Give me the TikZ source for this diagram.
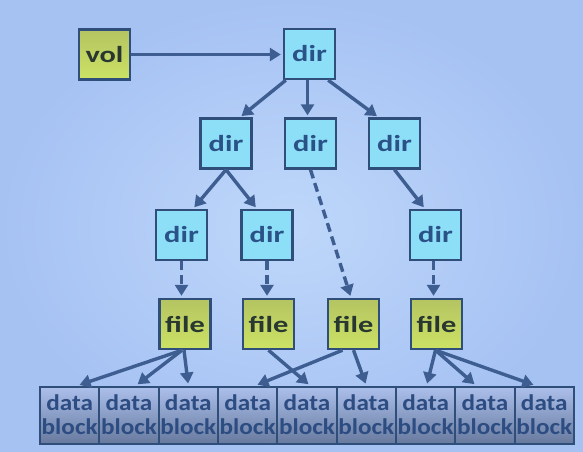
\documentclass[tikz,border=0pt]{standalone}
\usepackage{fontspec}
\setmainfont{Carlito}
\newfontfamily\lblfont[FakeStretch=1.32]{Carlito}
\newfontfamily\blkfont[FakeStretch=1.12]{Carlito}
\usetikzlibrary{arrows.meta}
\definecolor{bgout}{RGB}{166,194,243}
\definecolor{bgin}{RGB}{190,215,250}
\definecolor{dirfill}{RGB}{141,223,248}
\definecolor{boxline}{RGB}{48,78,122}
\definecolor{arrowc}{RGB}{62,94,145}
\definecolor{dirtext}{RGB}{42,82,135}
\definecolor{filetop}{RGB}{180,196,98}
\definecolor{filebot}{RGB}{204,226,100}
\definecolor{filetext}{RGB}{40,56,48}
\definecolor{blktop}{RGB}{172,192,236}
\definecolor{blkbot}{RGB}{104,122,158}
\definecolor{blktext}{RGB}{44,76,130}
\begin{document}
\begin{tikzpicture}[x=1pt,y=-1pt,
 box/.style={draw=boxline, line width=2.4pt, minimum width=51pt, minimum height=50pt, inner sep=0pt, font=\lblfont\bfseries\fontsize{23}{25}\selectfont},
 dirbox/.style={box, fill=dirfill, text=dirtext},
 filebox/.style={box, top color=filetop, bottom color=filebot, text=filetext},
 blkbox/.style={draw=boxline, line width=2pt, minimum width=59.33pt, minimum height=57pt, inner sep=0pt, top color=blktop, bottom color=blkbot, text=blktext, align=center, font=\blkfont\bfseries\fontsize{22.5}{24}\selectfont},
 arr/.style={draw=arrowc, line width=3.4pt, -{Triangle[length=11pt,width=13pt]}, shorten >=2pt},
 darr/.style={arr, dash pattern=on 9pt off 5pt},
]
\useasboundingbox (0,0) rectangle (583,451);
\shade[inner color=bgin, outer color=bgout] (0,0) rectangle (583,451);

\node[filebox] (vol) at (104.5,54.5) {vol};
\node[dirbox] (d0) at (309.5,54) {dir};
\node[dirbox] (d1) at (226,143.5) {dir};
\node[dirbox] (d2) at (310.5,143.5) {dir};
\node[dirbox] (d3) at (394.5,143.5) {dir};
\node[dirbox] (d4) at (181.5,235) {dir};
\node[dirbox] (d5) at (267,235) {dir};
\node[dirbox] (d6) at (435.5,235) {dir};
\node[filebox] (f1) at (185,324) {file};
\node[filebox] (f2) at (268.5,324) {file};
\node[filebox] (f3) at (353.5,324) {file};
\node[filebox] (f4) at (436.5,324) {file};
\foreach \i in {1,...,9}
  \node[blkbox] (b\i) at ({40+59.33*(\i-0.5)},415) {data\\block};

\draw[arr] (vol.east) -- (vol.east -| d0.west);
\draw[arr] ([xshift=3pt]d0.south west) -- ([xshift=14pt]d1.north);
\draw[arr] ([xshift=-2pt]d0.south) -- ([xshift=-2pt]d0.south |- d2.north);
\draw[arr] ([xshift=-8pt]d0.south east) -- ([xshift=-16pt]d3.north);
\draw[arr] (d1.south) -- ([xshift=11.5pt]d4.north);
\draw[arr] (d1.south) -- ([xshift=-10pt]d5.north);
\draw[darr] (d2.south) -- ([xshift=-2.5pt]f3.north);
\draw[arr] (d3.south) -- ([xshift=-10.5pt]d6.north);
\draw[darr] (d4.south) -- (d4.south |- f1.north);
\draw[darr] (d5.south) -- (d5.south |- f2.north);
\draw[darr] ([xshift=-2pt]d6.south) -- ([xshift=-2pt]d6.south |- f4.north);

\draw[arr] ([xshift=-3pt]f1.south) -- ([xshift=8pt]b1.north);
\draw[arr] ([xshift=-3pt]f1.south) -- ([xshift=7pt]b2.north);
\draw[arr] ([xshift=-1pt]f1.south) -- (b3.north);
\draw[arr] (f2.south) -- ([xshift=3pt]b5.north);
\draw[arr] ([xshift=-11pt]f3.south) -- ([xshift=8pt]b4.north);
\draw[arr] (f3.south) -- (b6.north);
\draw[arr] ([xshift=-1pt]f4.south) -- ([xshift=1pt]b7.north);
\draw[arr] ([xshift=-1pt]f4.south) -- ([xshift=-9pt]b8.north);
\draw[arr] ([xshift=-1pt]f4.south) -- ([xshift=-9pt]b9.north);
\end{tikzpicture}
\end{document}
